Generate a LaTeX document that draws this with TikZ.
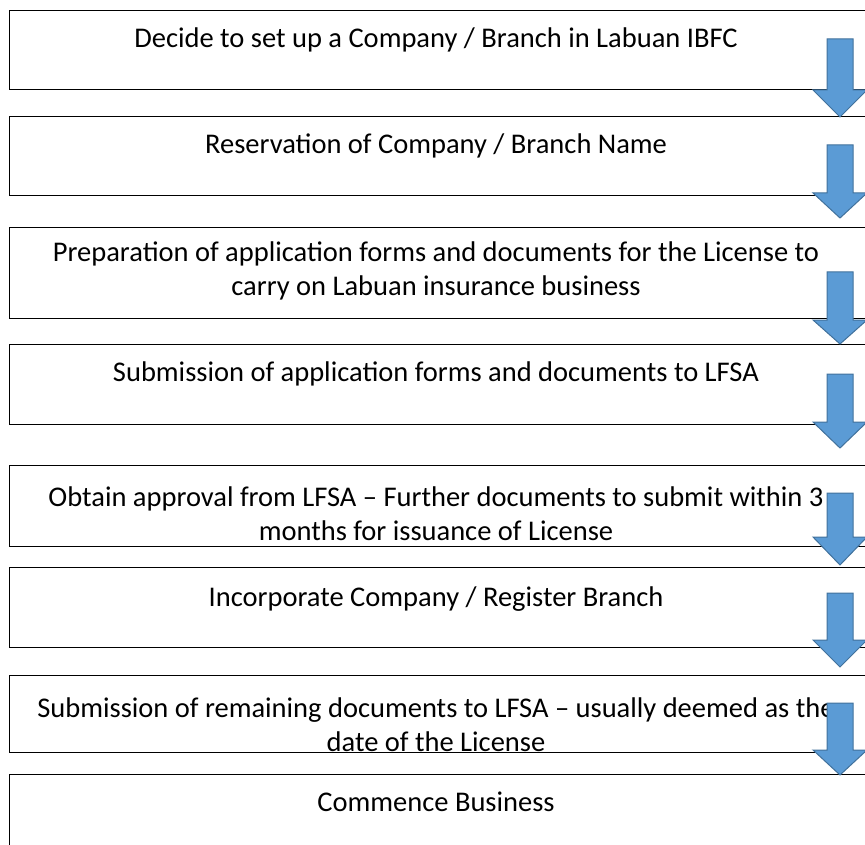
\documentclass[tikz,border=0pt]{standalone}
\usepackage{fontspec}
\setmainfont{Carlito}
\usetikzlibrary{positioning}
\definecolor{arrowblue}{HTML}{5B9BD5}
\definecolor{arrowedge}{HTML}{41719C}
\tikzset{
  stepbox/.style={draw=black, line width=0.9pt, minimum width=880pt, anchor=north west, inner sep=0pt},
  steptext/.style={font=\fontsize{28.5}{34}\selectfont, align=center, anchor=base, inner sep=0pt},
  downarrow/.style={fill=arrowblue, draw=arrowedge, line width=1pt, line join=miter}
}

\begin{document}
\begin{tikzpicture}[x=1pt,y=1pt]
\useasboundingbox (0,0) rectangle (865,-845);

% the boxes
\node[stepbox, minimum height=79pt] (s1) at (9,-10) {};
\node[stepbox, minimum height=79pt] (s2) at (9,-116) {};
\node[stepbox, minimum height=91pt] (s3) at (9,-227) {};
\node[stepbox, minimum height=80pt] (s4) at (9,-344) {};
\node[stepbox, minimum height=81pt] (s5) at (9,-465) {};
\node[stepbox, minimum height=80pt] (s6) at (9,-567) {};
\node[stepbox, minimum height=77pt] (s7) at (9,-675) {};
\node[stepbox, minimum height=90pt] (s8) at (9,-774) {};

% the texts (base = last line)
\node[steptext] (t1) at (436,-48) {Decide to set up a Company / Branch in Labuan IBFC};
\node[steptext] (t2) at (436,-154) {Reservation of Company / Branch Name};
\node[steptext] (t3) at (436,-295) {Preparation of application forms and documents for the License to\\carry on Labuan insurance business};
\node[steptext] (t4) at (436,-381) {Submission of application forms and documents to LFSA};
\node[steptext] (t5) at (436,-540) {Obtain approval from LFSA -- Further documents to submit within 3\\months for issuance of License};
\node[steptext] (t6) at (436,-606) {Incorporate Company / Register Branch};
\node[steptext] (t7) at (436,-751) {Submission of remaining documents to LFSA -- usually deemed as the\\date of the License};
\node[steptext] (t8) at (436,-811) {Commence Business};

% block arrows down the right side
\foreach \ya/\yb/\yc in {39/90/117, 145/193/218, 272/320/344, 374/422/448, 493/537/565, 593/640/667, 703/750/775}
  \draw[downarrow] (827,-\ya) -- (853,-\ya) -- (853,-\yb) -- (867,-\yb) -- (840,-\yc)
    -- (813,-\yb) -- (827,-\yb) -- cycle;

\end{tikzpicture}
\end{document}
